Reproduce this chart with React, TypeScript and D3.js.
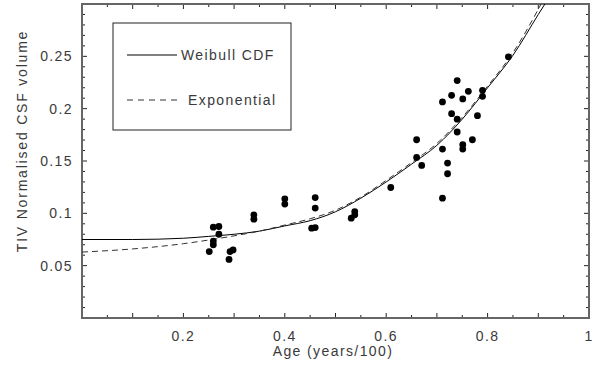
import React from "react";
import * as d3 from "d3";

// measured points (age / 100, normalised CSF volume)
const ageX = [
  0.251, 0.259, 0.259, 0.259, 0.27, 0.27, 0.29, 0.292, 0.298, 0.339, 0.339,
  0.4, 0.4, 0.453, 0.46, 0.46, 0.46, 0.531, 0.538, 0.538, 0.609,
  0.66, 0.66, 0.67, 0.711, 0.711, 0.711, 0.721, 0.721, 0.729, 0.729,
  0.74, 0.74, 0.74, 0.751, 0.751, 0.751, 0.762, 0.77, 0.78, 0.79, 0.79, 0.841,
];
const csfY = [
  0.0635, 0.07, 0.0735, 0.0868, 0.0874, 0.08, 0.056, 0.0635, 0.065, 0.0986, 0.0944,
  0.1139, 0.1088, 0.0858, 0.1151, 0.105, 0.0864, 0.0954, 0.1017, 0.0986, 0.1247,
  0.1703, 0.1534, 0.1458, 0.2064, 0.1614, 0.1145, 0.148, 0.1378, 0.2127, 0.1952,
  0.2268, 0.19, 0.1777, 0.2093, 0.1656, 0.1614, 0.2166, 0.1703, 0.1933, 0.2175, 0.2118, 0.2495,
];

// fitted curves
const fitX = [0, 0.1, 0.2, 0.25, 0.3, 0.35, 0.4, 0.45, 0.5, 0.55, 0.6, 0.65, 0.7, 0.75, 0.8, 0.85, 0.9, 0.93];
const weibullY = [0.075, 0.075, 0.0762, 0.078, 0.08, 0.083, 0.088, 0.093, 0.1015, 0.1145, 0.13, 0.147, 0.165, 0.19, 0.22, 0.251, 0.29, 0.313];
const expY = [0.063, 0.066, 0.071, 0.0745, 0.0785, 0.083, 0.0888, 0.0948, 0.103, 0.1155, 0.1315, 0.1485, 0.1668, 0.1918, 0.2215, 0.2535, 0.295, 0.323];

const xTicks = [0.2, 0.4, 0.6, 0.8, 1];
const yTicks = [0.05, 0.1, 0.15, 0.2, 0.25];
const legendItems = ["Weibull CDF", "Exponential"];

const W = 599;
const H = 371;
const left = 82;
const right = 589;
const top = 4;
const bottom = 318;

export default function App() {
  const x = d3.scaleLinear().domain([0, 1]).range([left, right]);
  const y = d3.scaleLinear().domain([0, 0.3]).range([bottom, top]);

  const line = d3
    .line<number>()
    .x((d, i) => x(fitX[i]))
    .y((d) => y(d))
    .curve(d3.curveMonotoneX);

  const xMinor = d3.range(1, 20).map((i) => i * 0.05);
  const yMinor = d3.range(1, 30).map((i) => i * 0.01);
  const font = "Arial, 'Liberation Sans', sans-serif";
  const txt = "#3a3a3a";

  return (
    <svg
      width={W}
      height={H}
      style={{ position: "absolute", left: 0, top: 0, background: "#fff" }}
      fontFamily={font}
    >
      <defs>
        <clipPath id="plot">
          <rect x={left} y={top} width={right - left} height={bottom - top} />
        </clipPath>
      </defs>

      {/* ticks, all four sides, pointing in */}
      <g stroke="#222" strokeWidth={1}>
        {xMinor.map((t, i) => {
          const len = (i + 1) % 2 === 0 ? 5 : 3;
          return (
            <g key={"xt" + i}>
              <line x1={x(t)} x2={x(t)} y1={bottom} y2={bottom - len} />
              <line x1={x(t)} x2={x(t)} y1={top} y2={top + len} />
            </g>
          );
        })}
        {yMinor.map((t, i) => {
          const len = (i + 1) % 5 === 0 ? 5 : 3;
          return (
            <g key={"yt" + i}>
              <line x1={left} x2={left + len} y1={y(t)} y2={y(t)} />
              <line x1={right} x2={right - len} y1={y(t)} y2={y(t)} />
            </g>
          );
        })}
      </g>

      <rect
        x={left}
        y={top}
        width={right - left}
        height={bottom - top}
        fill="none"
        stroke="#666"
        strokeWidth={2}
      />

      <g clipPath="url(#plot)" fill="none">
        <path d={line(weibullY) || ""} stroke="#000" strokeWidth={1} />
        <path d={line(expY) || ""} stroke="#333" strokeWidth={1} strokeDasharray="6,4" />
      </g>

      <g fill="#000">
        {ageX.map((a, i) => (
          <circle key={i} cx={x(a)} cy={y(csfY[i])} r={3.4} />
        ))}
      </g>

      {/* legend */}
      <rect x={113} y={23} width={178} height={107} fill="#fff" stroke="#222" strokeWidth={1} />
      <line x1={127} x2={177} y1={55} y2={55} stroke="#000" />
      <line x1={127} x2={177} y1={100} y2={100} stroke="#333" strokeDasharray="6,5" />
      <text x={181} y={60} fontSize={14} letterSpacing={1.4} fill={txt}>
        {legendItems[0]}
      </text>
      <text x={188} y={105} fontSize={14} letterSpacing={1.4} fill={txt}>
        {legendItems[1]}
      </text>

      {/* axis labels */}
      <g fontSize={14} letterSpacing={1.4} fill={txt}>
        {xTicks.map((t) => (
          <text key={t} x={x(t)} y={341} textAnchor="middle">
            {String(t)}
          </text>
        ))}
        {yTicks.map((t) => (
          <text key={t} x={73} y={y(t) + 5} textAnchor="end">
            {String(t)}
          </text>
        ))}
        <text x={x(0.495)} y={356} textAnchor="middle">
          Age (years/100)
        </text>
        <text
          transform="translate(27,141) rotate(-90)"
          textAnchor="middle"
          letterSpacing={1.8}
        >
          TIV Normalised CSF volume
        </text>
      </g>
    </svg>
  );
}
